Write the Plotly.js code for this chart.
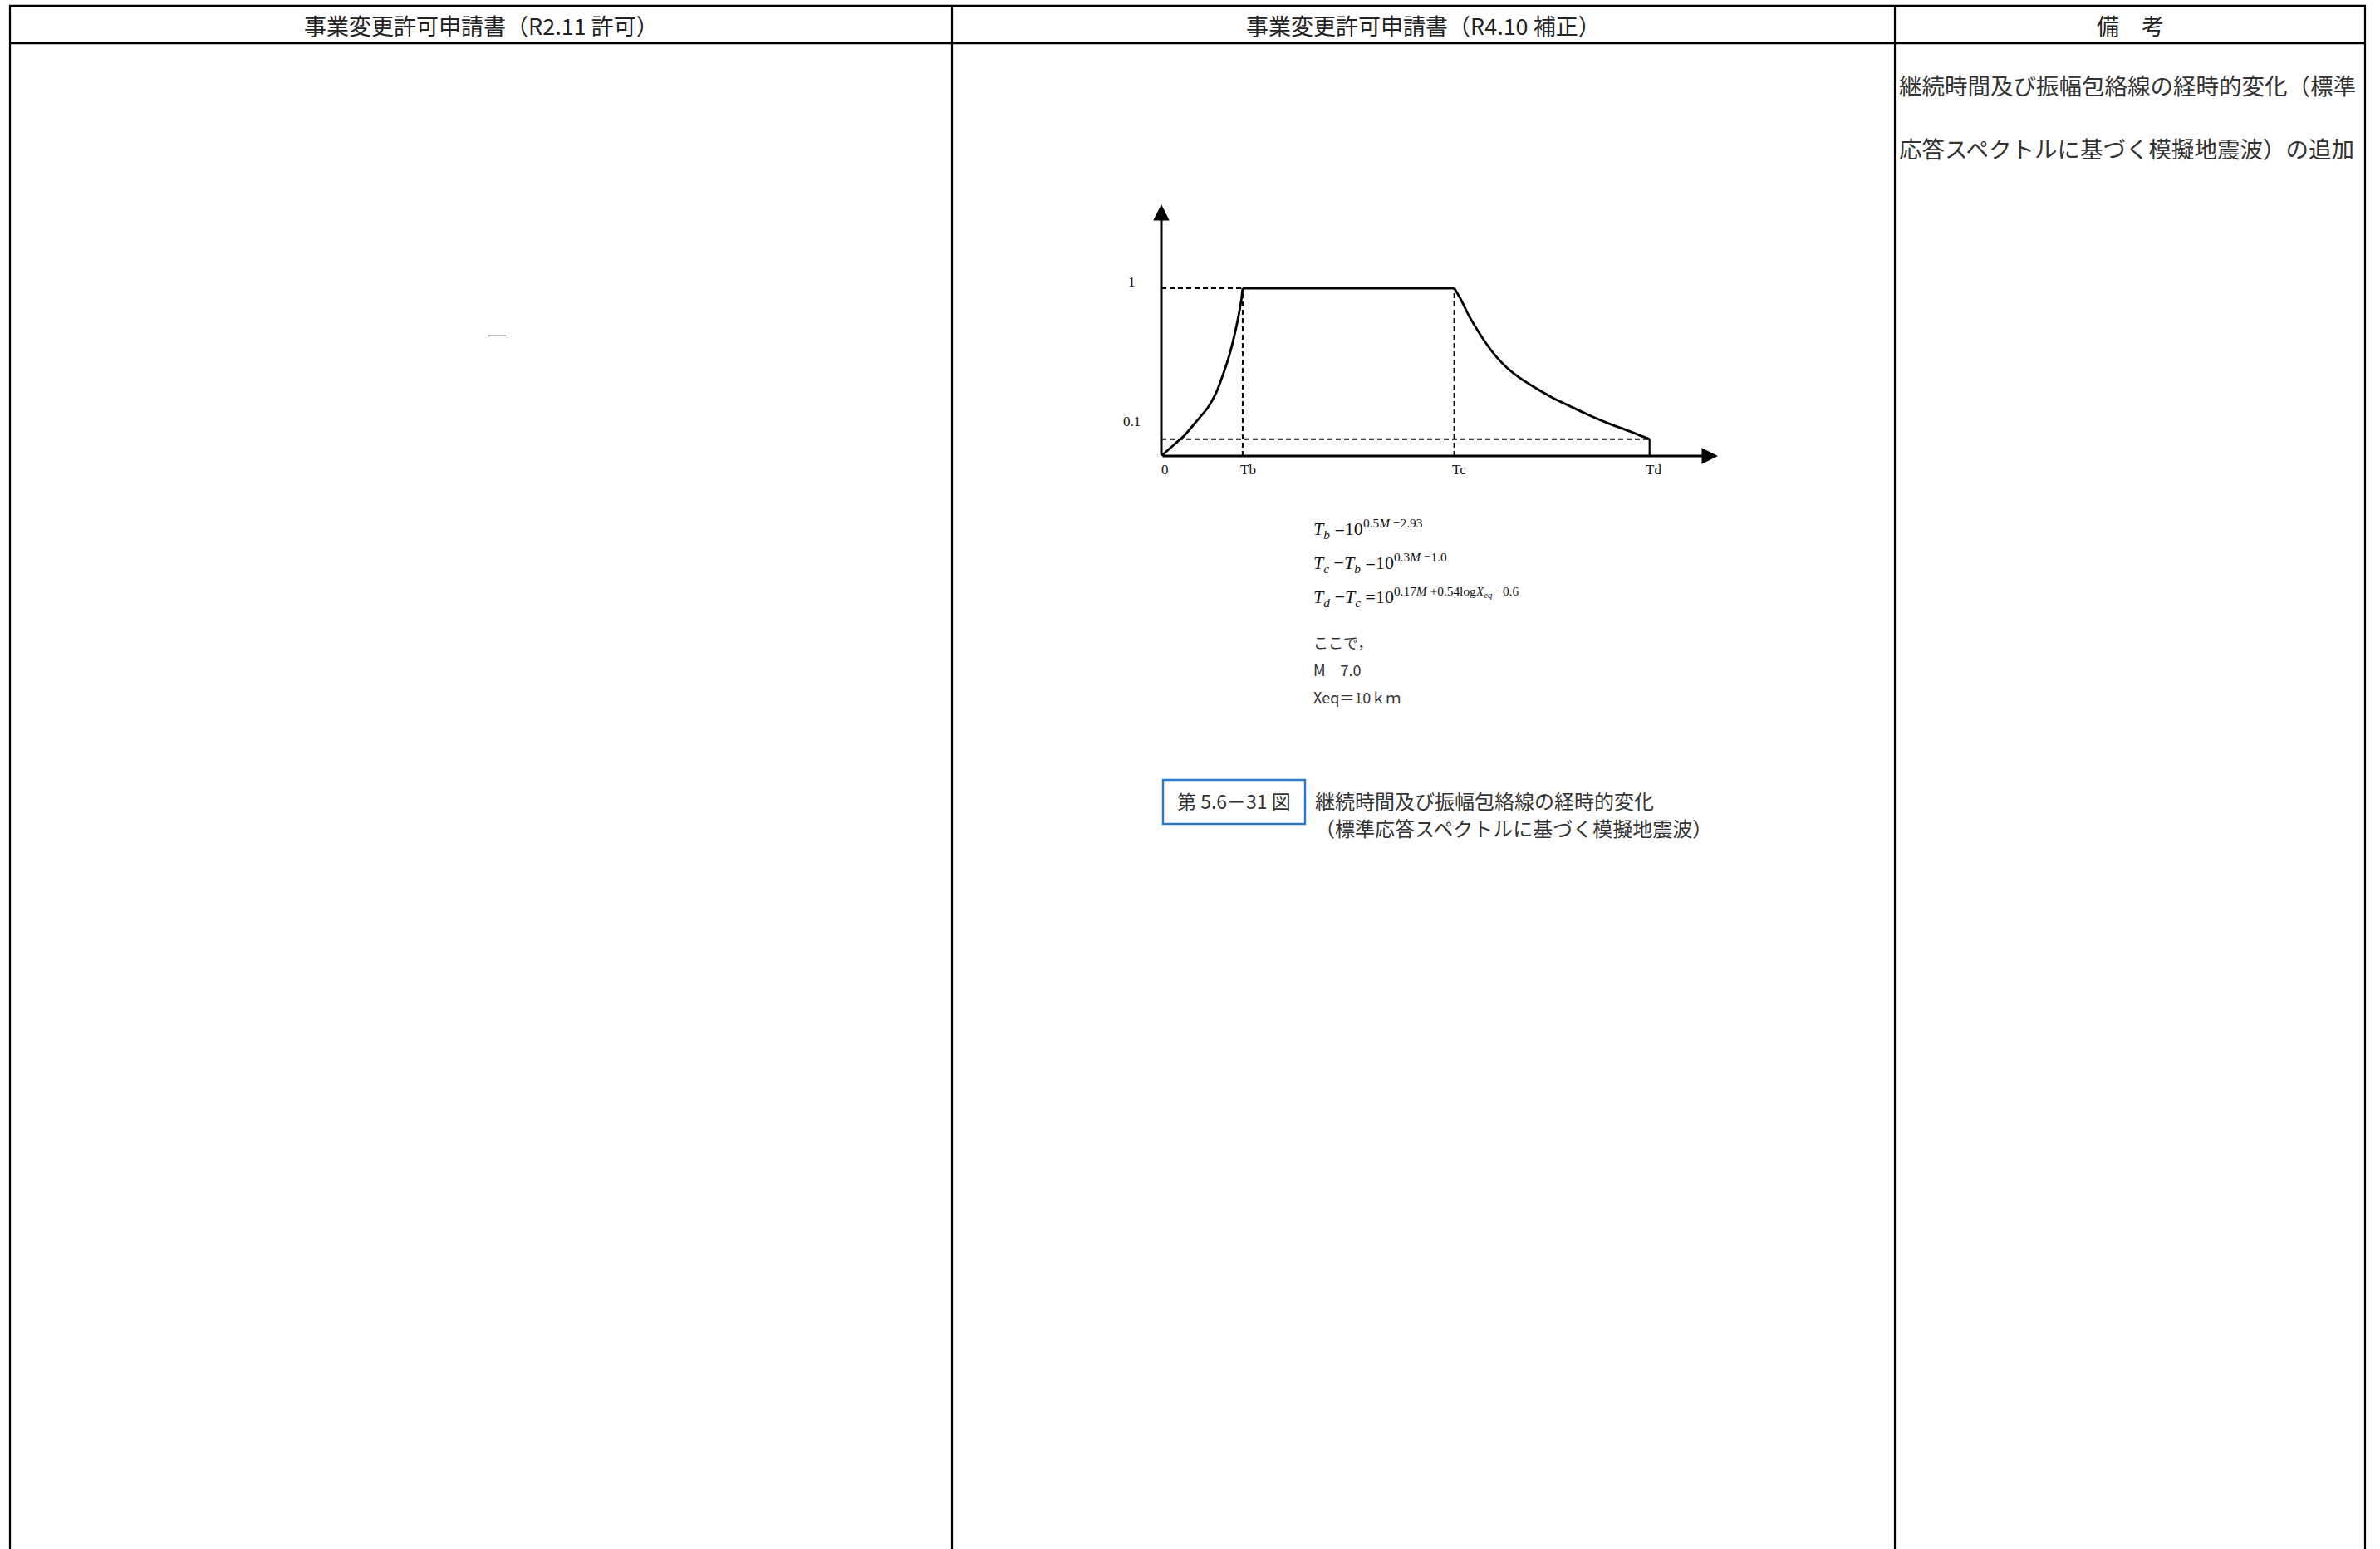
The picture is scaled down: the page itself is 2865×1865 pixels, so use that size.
<!DOCTYPE html>
<html>
<head>
<meta charset="utf-8">
<script src="https://cdn.plot.ly/plotly-3.0.1.min.js"></script>
<style>
html,body{margin:0;padding:0;background:#fff;overflow:hidden;}
#chart{width:2865px;height:1865px;}
</style>
</head>
<body>
<div id="chart"></div>
<script>
// ---------- data ----------
const headerTexts = ['事業変更許可申請書（R2.11 許可）', '事業変更許可申請書（R4.10 補正）', '備　考'];
const col1Body = '―';
const remarkLines = ['継続時間及び振幅包絡線の経時的変化（標準', '応答スペクトルに基づく模擬地震波）の追加'];

const xTickVals = [0, 1.0, 3.6, 6.0];          // 0, Tb, Tc, Td (schematic time units)
const xTickLabels = ['0', 'Tb', 'Tc', 'Td'];
const yTickVals = [1, 0.1];
const yTickLabels = ['1', '0.1'];

const riseT = [0, 0.10, 0.20, 0.285, 0.415, 0.57, 0.674, 0.751, 0.829, 0.891, 0.943, 0.984, 1.0];
const riseA = [0, 0.043, 0.086, 0.123, 0.197, 0.287, 0.377, 0.475, 0.590, 0.705, 0.820, 0.934, 1.0];
const flatT = [1.0, 3.6];
const flatA = [1.0, 1.0];
const decayT = [3.6, 3.68, 3.78, 3.89, 3.99, 4.12, 4.25, 4.40, 4.61, 4.82, 5.03, 5.23, 5.49, 5.75, 6.0];
const decayA = [1.0, 0.934, 0.836, 0.746, 0.672, 0.590, 0.525, 0.467, 0.402, 0.344, 0.295, 0.249, 0.195, 0.148, 0.1];
const dropT = [6.0, 6.0];
const dropA = [0.1, 0];

const formulaLines = [
  '<i>T</i><sub><i>b</i></sub> =10<sup>0.5<i>M</i> −2.93</sup>',
  '<i>T</i><sub><i>c</i></sub> −<i>T</i><sub><i>b</i></sub> =10<sup>0.3<i>M</i> −1.0</sup>',
  '<i>T</i><sub><i>d</i></sub> −<i>T</i><sub><i>c</i></sub> =10<sup>0.17<i>M</i> +0.54log<i>X</i><sub><i>eq</i></sub> −0.6</sup>'
];
const noteLines = ['ここで，', 'M　7.0', 'Xeq＝10ｋｍ'];
const figNumber = '第 5.6－31 図';
const captionLines = ['継続時間及び振幅包絡線の経時的変化', '（標準応答スペクトルに基づく模擬地震波）'];

// ---------- helpers ----------
const W = 2865, H = 1865;
const px = v => v / W;
const py = v => 1 - v / H;
const CJK = '"Noto Sans CJK JP", "Noto Sans", sans-serif';
const SERIF = '"Liberation Serif", "DejaVu Serif", serif';

const xMax = 6.84, yMax = 1.5;
const Tb = xTickVals[1], Tc = xTickVals[2], Td = xTickVals[3];

// ---------- traces ----------
const dashStyle = {color: '#000', width: 2, dash: '6px,4px'};
const traces = [
  {x: [0, Tb], y: [yTickVals[0], yTickVals[0]], mode: 'lines', line: dashStyle},
  {x: [0, Td], y: [yTickVals[1], yTickVals[1]], mode: 'lines', line: dashStyle},
  {x: [Tb, Tb], y: [0, yTickVals[0]], mode: 'lines', line: dashStyle},
  {x: [Tc, Tc], y: [0, yTickVals[0]], mode: 'lines', line: dashStyle},
  {x: riseT, y: riseA, mode: 'lines', line: {color: '#000', width: 2.8, shape: 'spline', smoothing: 0.6}},
  {x: flatT, y: flatA, mode: 'lines', line: {color: '#000', width: 3.2}},
  {x: decayT, y: decayA, mode: 'lines', line: {color: '#000', width: 2.8, shape: 'spline', smoothing: 0.6}},
  {x: dropT, y: dropA, mode: 'lines', line: {color: '#000', width: 2.2}}
].map(t => Object.assign({hoverinfo: 'skip', showlegend: false, cliponaxis: false}, t));

// ---------- shapes (table) ----------
const vLines = [12, 1146, 2281, 2847];
const hLines = [7, 52];
const shapes = [];
vLines.forEach(x => shapes.push({type: 'line', xref: 'paper', yref: 'paper', x0: px(x), x1: px(x), y0: py(hLines[0] - 1), y1: py(H + 5), line: {color: '#000', width: 2.2}}));
hLines.forEach(y => shapes.push({type: 'line', xref: 'paper', yref: 'paper', x0: px(vLines[0] - 1), x1: px(vLines[3] + 1), y0: py(y), y1: py(y), line: {color: '#000', width: 2.6}}));
// caption box
shapes.push({type: 'rect', xref: 'paper', yref: 'paper', x0: px(1400), x1: px(1571), y0: py(939), y1: py(992), line: {color: '#2a7bd0', width: 2.4}, fillcolor: 'rgba(0,0,0,0)'});

// ---------- annotations ----------
const ann = [];
const colCenters = [579, 1713, 2564];
headerTexts.forEach((t, i) => ann.push({xref: 'paper', yref: 'paper', x: px(colCenters[i]), y: py(30), text: t, showarrow: false, xanchor: 'center', yanchor: 'middle', font: {family: CJK, size: 27, color: '#222'}}));
ann.push({xref: 'paper', yref: 'paper', x: px(598), y: py(402), text: '<b>' + col1Body + '</b>', showarrow: false, xanchor: 'center', yanchor: 'middle', font: {family: CJK, size: 26, color: '#000'}});
remarkLines.forEach((t, i) => ann.push({xref: 'paper', yref: 'paper', x: px(2284), y: py([102, 178][i]), text: t, showarrow: false, xanchor: 'left', yanchor: 'middle', font: {family: CJK, size: 27.5, color: '#333'}}));

// axes with arrowheads
ann.push({xref: 'x', yref: 'y', axref: 'x', ayref: 'y', x: xMax, y: 0, ax: 0, ay: 0, text: '', showarrow: true, arrowhead: 2, arrowsize: 1.3, arrowwidth: 3, arrowcolor: '#000', standoff: 0, startstandoff: 0});
ann.push({xref: 'x', yref: 'y', axref: 'x', ayref: 'y', x: 0, y: yMax, ax: 0, ay: 0, text: '', showarrow: true, arrowhead: 2, arrowsize: 1.3, arrowwidth: 3, arrowcolor: '#000', standoff: 0, startstandoff: 0});

// tick labels
const xLabShift = [4, 7, 6, 5];
xTickVals.forEach((v, i) => ann.push({xref: 'x', yref: 'y', x: v, y: 0, xshift: xLabShift[i], yshift: -17, text: xTickLabels[i], showarrow: false, xanchor: 'center', yanchor: 'middle', font: {family: SERIF, size: 17, color: '#111'}}));
yTickVals.forEach((v, i) => ann.push({xref: 'x', yref: 'y', x: 0, y: v, xshift: -36, yshift: [7, 21][i], text: yTickLabels[i], showarrow: false, xanchor: 'center', yanchor: 'middle', font: {family: SERIF, size: 17, color: '#111'}}));

// formulas
const fY = [637, 677, 719];
formulaLines.forEach((t, i) => ann.push({xref: 'paper', yref: 'paper', x: px(1579), y: py(fY[i]), text: t, showarrow: false, xanchor: 'left', yanchor: 'middle', font: {family: SERIF, size: 22, color: '#111'}}));
const nY = [773, 806, 839];
noteLines.forEach((t, i) => ann.push({xref: 'paper', yref: 'paper', x: px(1579), y: py(nY[i]), text: t, showarrow: false, xanchor: 'left', yanchor: 'middle', font: {family: CJK, size: 18, color: '#333'}}));

// caption
ann.push({xref: 'paper', yref: 'paper', x: px(1485), y: py(964), text: figNumber, showarrow: false, xanchor: 'center', yanchor: 'middle', font: {family: CJK, size: 23, color: '#333'}});
captionLines.forEach((t, i) => ann.push({xref: 'paper', yref: 'paper', x: px(1581), y: py([963, 996][i]), text: t, showarrow: false, xanchor: 'left', yanchor: 'middle', font: {family: CJK, size: 24, color: '#333'}}));

const axisCommon = {showgrid: false, zeroline: false, showline: false, showticklabels: false, ticks: '', fixedrange: true};
const layout = {
  width: W, height: H,
  margin: {l: 0, r: 0, t: 0, b: 0, pad: 0},
  paper_bgcolor: '#fff', plot_bgcolor: 'rgba(0,0,0,0)',
  showlegend: false,
  xaxis: Object.assign({domain: [px(1398), px(2068)], range: [0, xMax]}, axisCommon),
  yaxis: Object.assign({domain: [py(549), py(246)], range: [0, yMax]}, axisCommon),
  shapes: shapes,
  annotations: ann
};
Plotly.newPlot('chart', traces, layout, {displayModeBar: false, staticPlot: true});
</script>
</body>
</html>
